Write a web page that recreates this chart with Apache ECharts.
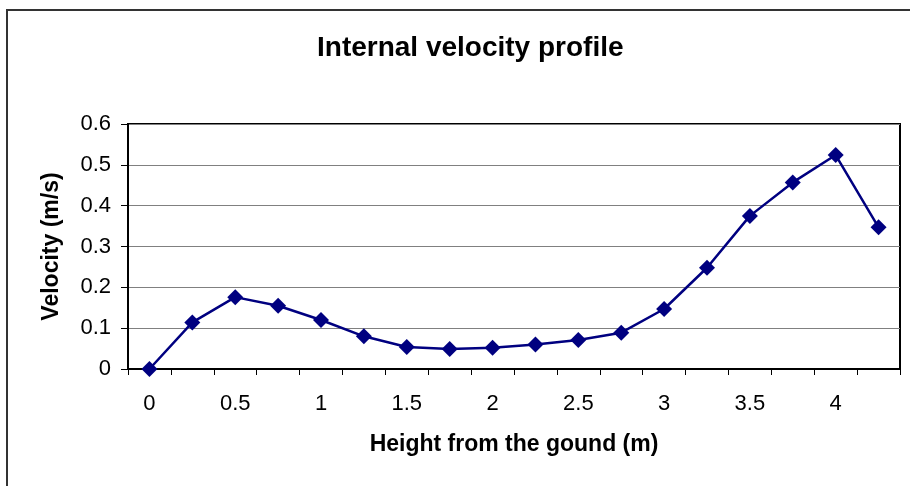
<!DOCTYPE html>
<html>
<head>
<meta charset="utf-8">
<script src="https://cdn.jsdelivr.net/npm/echarts@6/dist/echarts.min.js"></script>
<style>
  html, body { margin: 0; padding: 0; background: #fff; }
  #chart { width: 910px; height: 486px; }
</style>
</head>
<body>
<div id="chart"></div>
<script>
// Height above the ground (m) for each measurement point
const heights = ['0', '0.25', '0.5', '0.75', '1', '1.25', '1.5', '1.75', '2',
                 '2.25', '2.5', '2.75', '3', '3.25', '3.5', '3.75', '4', '4.25'];
// Measured internal velocity (m/s)
const velocity = [0, 0.114, 0.176, 0.155, 0.12, 0.08, 0.054, 0.049, 0.052,
                  0.06, 0.071, 0.089, 0.147, 0.248, 0.375, 0.457, 0.524, 0.347];

const titleText = 'Internal velocity profile';
const xName = 'Height from the gound (m)';
const yName = 'Velocity (m/s)';

const font = 'Liberation Sans, Arial, sans-serif';
const chart = echarts.init(document.getElementById('chart'), null, { renderer: 'canvas' });

chart.setOption({
  animation: false,
  backgroundColor: '#fff',
  title: {
    text: titleText,
    left: 312,
    top: 29,
    textStyle: { fontFamily: font, fontSize: 28, fontWeight: 'bold', color: '#000' }
  },
  graphic: [{
    type: 'rect',
    shape: { x: 7, y: 10, width: 920, height: 500 },
    style: { fill: 'none', stroke: '#333', lineWidth: 2 },
    silent: true,
    z: 100
  }],
  grid: {
    left: 128, top: 124, right: 10, bottom: 117,
    show: true, borderColor: '#000', borderWidth: 2
  },
  xAxis: {
    type: 'category',
    data: heights,
    boundaryGap: true,
    name: xName,
    nameLocation: 'middle',
    nameGap: 64,
    nameTextStyle: { fontFamily: font, fontSize: 23, fontWeight: 'bold', color: '#000' },
    axisLine: { lineStyle: { color: '#000', width: 2 } },
    axisTick: { show: true, interval: 0, length: 6, lineStyle: { color: '#000', width: 1 } },
    axisLabel: { interval: 1, margin: 24, fontFamily: font, fontSize: 22, color: '#000' },
    splitLine: { show: false }
  },
  yAxis: {
    type: 'value',
    min: 0, max: 0.6, interval: 0.1,
    name: yName,
    nameLocation: 'middle',
    nameGap: 65,
    nameTextStyle: { fontFamily: font, fontSize: 23, fontWeight: 'bold', color: '#000' },
    axisLine: { show: true, lineStyle: { color: '#000', width: 2 } },
    axisTick: { show: true, length: 7, lineStyle: { color: '#000', width: 1 } },
    axisLabel: { margin: 17, fontFamily: font, fontSize: 22, color: '#000',
                 formatter: v => String(Math.round(v * 10) / 10) },
    splitLine: { show: true, lineStyle: { color: '#808080', width: 1 } }
  },
  series: [{
    type: 'line',
    data: velocity,
    symbol: 'diamond',
    symbolSize: 16,
    itemStyle: { color: '#000080' },
    lineStyle: { color: '#000080', width: 2.5 }
  }]
});
</script>
</body>
</html>
